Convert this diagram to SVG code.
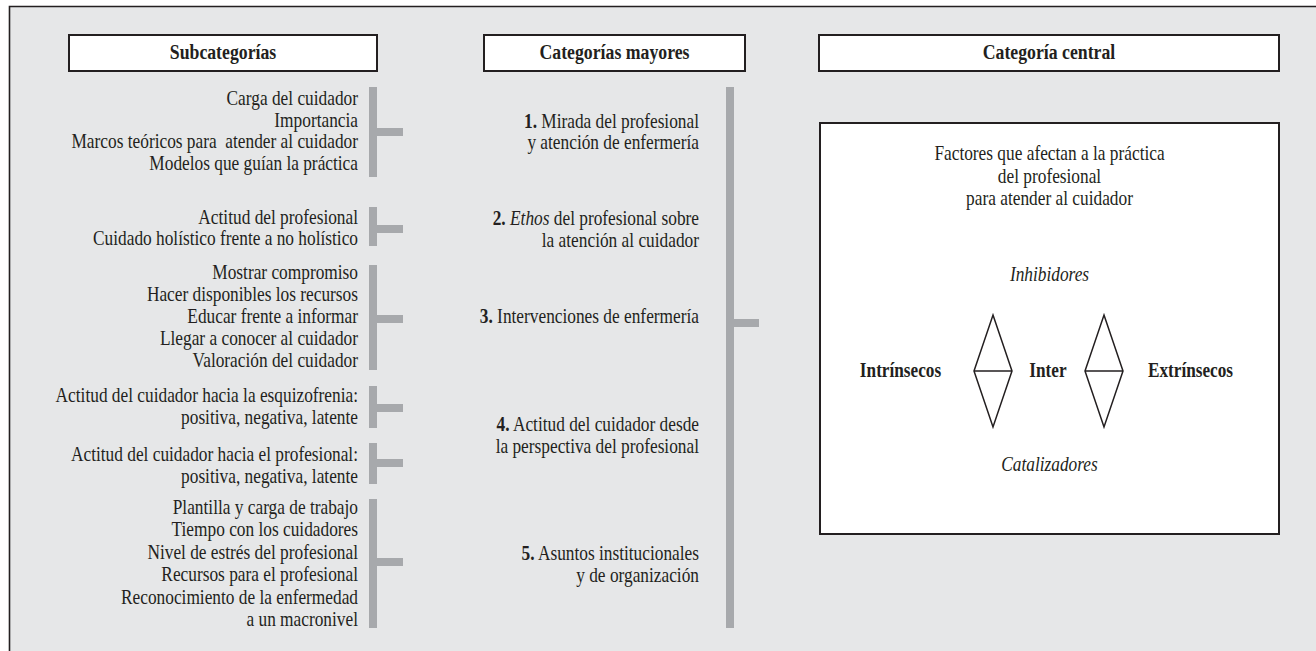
<svg xmlns="http://www.w3.org/2000/svg" width="1316" height="651" viewBox="0 0 1316 651" font-family="'Liberation Serif', 'DejaVu Serif', serif">
  <style>
    text { font-family: 'Liberation Serif', 'DejaVu Serif', serif; }
    .t { font-size: 20.5px; fill: #231f20; }
    .hd { font-weight: bold; font-size: 21px; text-anchor: middle; }
    .b { font-weight: bold; }
    .i { font-style: italic; }
    .r { text-anchor: end; }
    .m { text-anchor: middle; }
    .box { fill: #ffffff; stroke: #231f20; stroke-width: 2; }
    .bar { fill: #a7a9ac; }
    .dia { fill: none; stroke: #231f20; stroke-width: 1.5; stroke-linejoin: miter; }
  </style>

  <!-- panel background and frame (open on right and bottom) -->
  <rect x="10" y="7" width="1306" height="644" fill="#e6e7e8"/>
  <path d="M9.5 651 V6.5 H1316" fill="none" stroke="#231f20" stroke-width="1.6"/>

  <!-- column headers -->
  <g id="header-sub">
    <rect class="box" x="69" y="35" width="308" height="36"/>
    <text class="t hd" transform="translate(223 59) scale(.845 1)">Subcategorías</text>
  </g>
  <g id="header-may">
    <rect class="box" x="484" y="35" width="261" height="36"/>
    <text class="t hd" transform="translate(614.5 59) scale(.845 1)">Categorías mayores</text>
  </g>
  <g id="header-cen">
    <rect class="box" x="819" y="35" width="460" height="36"/>
    <text class="t hd" transform="translate(1049 59) scale(.845 1)">Categoría central</text>
  </g>

  <!-- bracket connectors -->
  <g id="connectors">
    <rect class="bar" x="369" y="87" width="8" height="90"/>
    <rect class="bar" x="377" y="128" width="26" height="8"/>
    <rect class="bar" x="369" y="207" width="8" height="39"/>
    <rect class="bar" x="377" y="225" width="26" height="8"/>
    <rect class="bar" x="369" y="265" width="8" height="105"/>
    <rect class="bar" x="377" y="315" width="26" height="8"/>
    <rect class="bar" x="369" y="386" width="8" height="42"/>
    <rect class="bar" x="377" y="404" width="26" height="8"/>
    <rect class="bar" x="369" y="443" width="8" height="41"/>
    <rect class="bar" x="377" y="459" width="26" height="8"/>
    <rect class="bar" x="369" y="499" width="8" height="129"/>
    <rect class="bar" x="377" y="558" width="26" height="8"/>
    <rect class="bar" x="726" y="87" width="8" height="541"/>
    <rect class="bar" x="734" y="319" width="25" height="8"/>
  </g>

  <!-- subcategories -->
  <g id="sub1" transform="translate(358 0) scale(.845 1)">
    <text class="t r" y="105">Carga del cuidador</text>
    <text class="t r" y="127">Importancia</text>
    <text class="t r" y="148" xml:space="preserve">Marcos teóricos para  atender al cuidador</text>
    <text class="t r" y="170">Modelos que guían la práctica</text>
  </g>
  <g id="sub2" transform="translate(358 0) scale(.845 1)">
    <text class="t r" y="224">Actitud del profesional</text>
    <text class="t r" y="245">Cuidado holístico frente a no holístico</text>
  </g>
  <g id="sub3" transform="translate(358 0) scale(.845 1)">
    <text class="t r" y="279">Mostrar compromiso</text>
    <text class="t r" y="301">Hacer disponibles los recursos</text>
    <text class="t r" y="323">Educar frente a informar</text>
    <text class="t r" y="345">Llegar a conocer al cuidador</text>
    <text class="t r" y="367">Valoración del cuidador</text>
  </g>
  <g id="sub4" transform="translate(358 0) scale(.845 1)">
    <text class="t r" y="402">Actitud del cuidador hacia la esquizofrenia:</text>
    <text class="t r" y="424">positiva, negativa, latente</text>
  </g>
  <g id="sub5" transform="translate(358 0) scale(.845 1)">
    <text class="t r" y="461">Actitud del cuidador hacia el profesional:</text>
    <text class="t r" y="483">positiva, negativa, latente</text>
  </g>
  <g id="sub6" transform="translate(358 0) scale(.845 1)">
    <text class="t r" y="514">Plantilla y carga de trabajo</text>
    <text class="t r" y="536">Tiempo con los cuidadores</text>
    <text class="t r" y="559">Nivel de estrés del profesional</text>
    <text class="t r" y="581">Recursos para el profesional</text>
    <text class="t r" y="604">Reconocimiento de la enfermedad</text>
    <text class="t r" y="626">a un macronivel</text>
  </g>

  <!-- major categories -->
  <g id="cat1" transform="translate(699 0) scale(.845 1)">
    <text class="t r" y="128"><tspan class="b">1.</tspan> Mirada del profesional</text>
    <text class="t r" y="149">y atención de enfermería</text>
  </g>
  <g id="cat2" transform="translate(699 0) scale(.845 1)">
    <text class="t r" y="225"><tspan class="b">2.</tspan> <tspan class="i">Ethos</tspan> del profesional sobre</text>
    <text class="t r" y="247">la atención al cuidador</text>
  </g>
  <g id="cat3" transform="translate(699 0) scale(.845 1)">
    <text class="t r" y="323"><tspan class="b">3.</tspan> Intervenciones de enfermería</text>
  </g>
  <g id="cat4" transform="translate(699 0) scale(.845 1)">
    <text class="t r" y="431"><tspan class="b">4.</tspan> Actitud del cuidador desde</text>
    <text class="t r" y="453">la perspectiva del profesional</text>
  </g>
  <g id="cat5" transform="translate(699 0) scale(.845 1)">
    <text class="t r" y="560"><tspan class="b">5.</tspan> Asuntos institucionales</text>
    <text class="t r" y="582">y de organización</text>
  </g>

  <!-- central category -->
  <g id="central">
    <rect class="box" x="820" y="123" width="459" height="411"/>
    <g transform="translate(1049.5 0) scale(.845 1)">
      <text class="t m" y="160">Factores que afectan a la práctica</text>
      <text class="t m" y="183">del profesional</text>
      <text class="t m" y="205">para atender al cuidador</text>
      <text class="t m i" y="281">Inhibidores</text>
      <text class="t m i" y="471">Catalizadores</text>
    </g>
    <text class="t m b" font-size="22" transform="translate(900.5 377) scale(.84 1)">Intrínsecos</text>
    <text class="t m b" font-size="22" transform="translate(1048 377) scale(.84 1)">Inter</text>
    <text class="t m b" font-size="22" transform="translate(1190.5 377) scale(.84 1)">Extrínsecos</text>
    <path class="dia" d="M993 315 L1012 371 L993 427 L974 371 Z M974 371 H1012"/>
    <path class="dia" d="M1104 315 L1123 371 L1104 427 L1085 371 Z M1085 371 H1123"/>
  </g>
</svg>
